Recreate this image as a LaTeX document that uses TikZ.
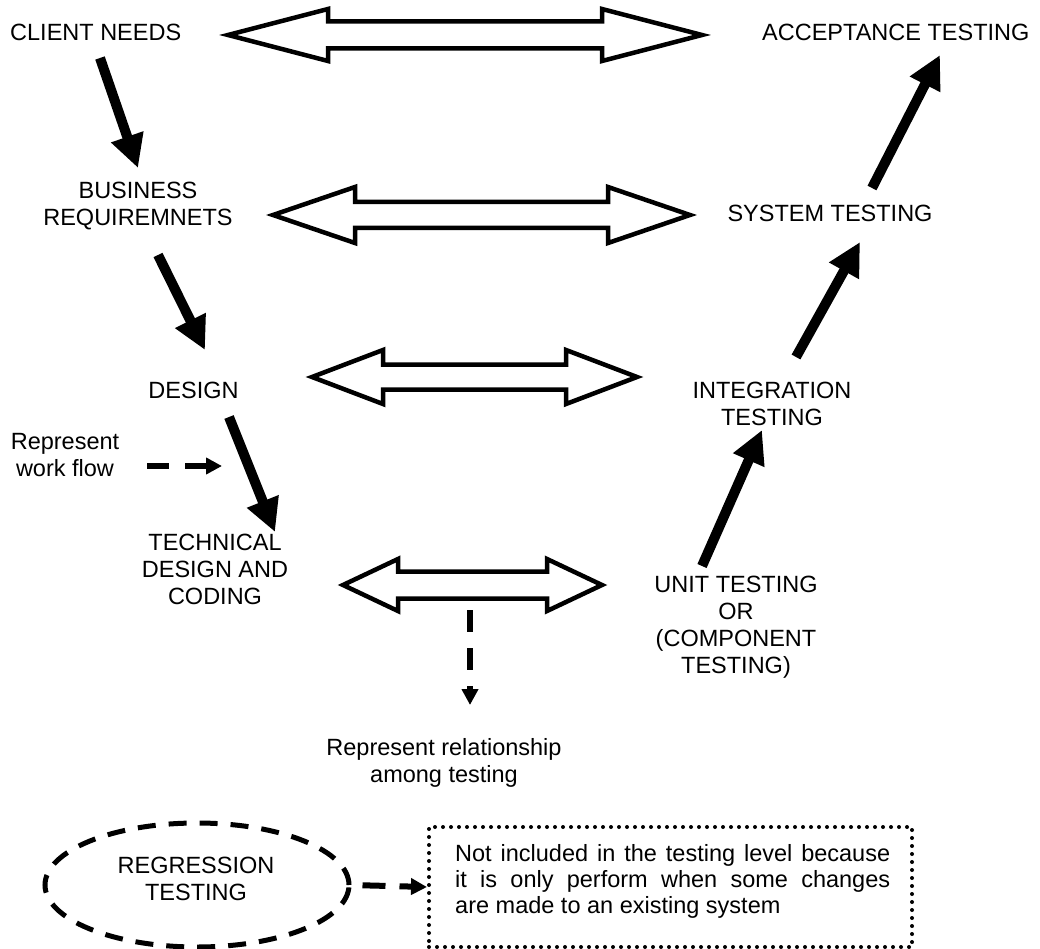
\documentclass[tikz,border=0pt]{standalone}
\usepackage{fontspec}
\setmainfont{Liberation Sans}
\usetikzlibrary{arrows.meta,shapes.geometric}
\newcommand\dblarr[6]{%
\draw[dbl] (#1,#3) -- ({#1+#4},{#3-#5}) -- ({#1+#4},{#3-#6}) -- ({#2-#4},{#3-#6}) -- ({#2-#4},{#3-#5}) -- (#2,#3) -- ({#2-#4},{#3+#5}) -- ({#2-#4},{#3+#6}) -- ({#1+#4},{#3+#6}) -- ({#1+#4},{#3+#5}) -- cycle;}
\begin{document}
\begin{tikzpicture}[x=1pt,y=-1pt,
  lbl/.style={font=\fontsize{23.5}{27}\selectfont, inner sep=0pt, align=center},
  flow/.style={line width=10pt, -{Triangle[length=33pt,width=32pt]}},
  dflow/.style={line width=6pt, dash pattern=on 22pt off 16pt, -{Triangle[length=16pt,width=16pt]}},
  dbl/.style={line width=4.5pt, line join=miter, draw=black, fill=white}]
\useasboundingbox (0,0) rectangle (1040,949);
% text nodes
\node[lbl, anchor=west] (client) at (10,32.5) {CLIENT NEEDS};
\node[lbl, anchor=west] (accept) at (762,32.5) {ACCEPTANCE TESTING};
\node[lbl] (business) at (138,206.5) {BUSINESS\\REQUIREMNETS};
\node[lbl] (system) at (830,213) {SYSTEM TESTING};
\node[lbl] (design) at (193.5,390) {DESIGN};
\node[lbl] (integ) at (772,404) {INTEGRATION\\TESTING};
\node[lbl] (wf) at (65,455) {Represent\\work flow};
\node[lbl] (tech) at (215,569.5) {TECHNICAL\\DESIGN AND\\CODING};
\node[lbl] (unit) at (736,627.5) {UNIT TESTING\\OR\\(COMPONENT\\TESTING)};
\node[lbl] (rel) at (444,763) {Represent relationship\\among testing};
% double arrows
\dblarr{228}{702}{35}{100}{26}{13.5}
\dblarr{273}{690}{215}{82}{28}{13}
\dblarr{312}{637}{377}{71}{27}{12.5}
\dblarr{343}{602}{585}{55}{26}{13.5}
% work flow arrows
\coordinate (f1s) at (100,58);  \coordinate (f1e) at (138,168);
\coordinate (f2s) at (158,255); \coordinate (f2e) at (205,350);
\coordinate (f3s) at (229,417); \coordinate (f3e) at (275,532);
\coordinate (f4s) at (702,566); \coordinate (f4e) at (762,430);
\coordinate (f5s) at (796,357); \coordinate (f5e) at (860,242);
\coordinate (f6s) at (872,188); \coordinate (f6e) at (940,55);
\draw[flow] (f1s) -- (f1e);
\draw[flow] (f2s) -- (f2e);
\draw[flow] (f3s) -- (f3e);
\draw[flow] (f4s) -- (f4e);
\draw[flow] (f5s) -- (f5e);
\draw[flow] (f6s) -- (f6e);
% dashed legend arrows
\coordinate (w1) at (147,466); \coordinate (w2) at (222,466);
\draw[dflow] (w1) -- (w2);
\coordinate (r1) at (470,610); \coordinate (r2) at (470,705);
\draw[dflow] (r1) -- (r2);
% regression
\node[ellipse, draw, line width=5pt, dash pattern=on 18pt off 13pt, minimum width=304pt, minimum height=124pt, inner sep=0pt] (reg) at (197,885) {};
\node[lbl] (regtxt) at (196,878.5) {REGRESSION\\TESTING};
\node[draw, line width=4pt, dash pattern=on 0pt off 8pt, line cap=round, minimum width=483pt, minimum height=120pt, anchor=north west, inner sep=0pt] (notebox) at (427,825) {};
\node[anchor=base west, inner sep=0pt] (note) at (455,861) {\parbox[t]{435pt}{\fontsize{23.5}{26}\selectfont Not included in the testing level because\linebreak it is only perform when some changes\linebreak are made to an existing system}};
\draw[line width=6pt, dash pattern=on 23pt off 14pt, -{Triangle[length=16pt,width=16pt]}, shorten <=11pt] (reg.east) -- (notebox.west);
\end{tikzpicture}
\end{document}
